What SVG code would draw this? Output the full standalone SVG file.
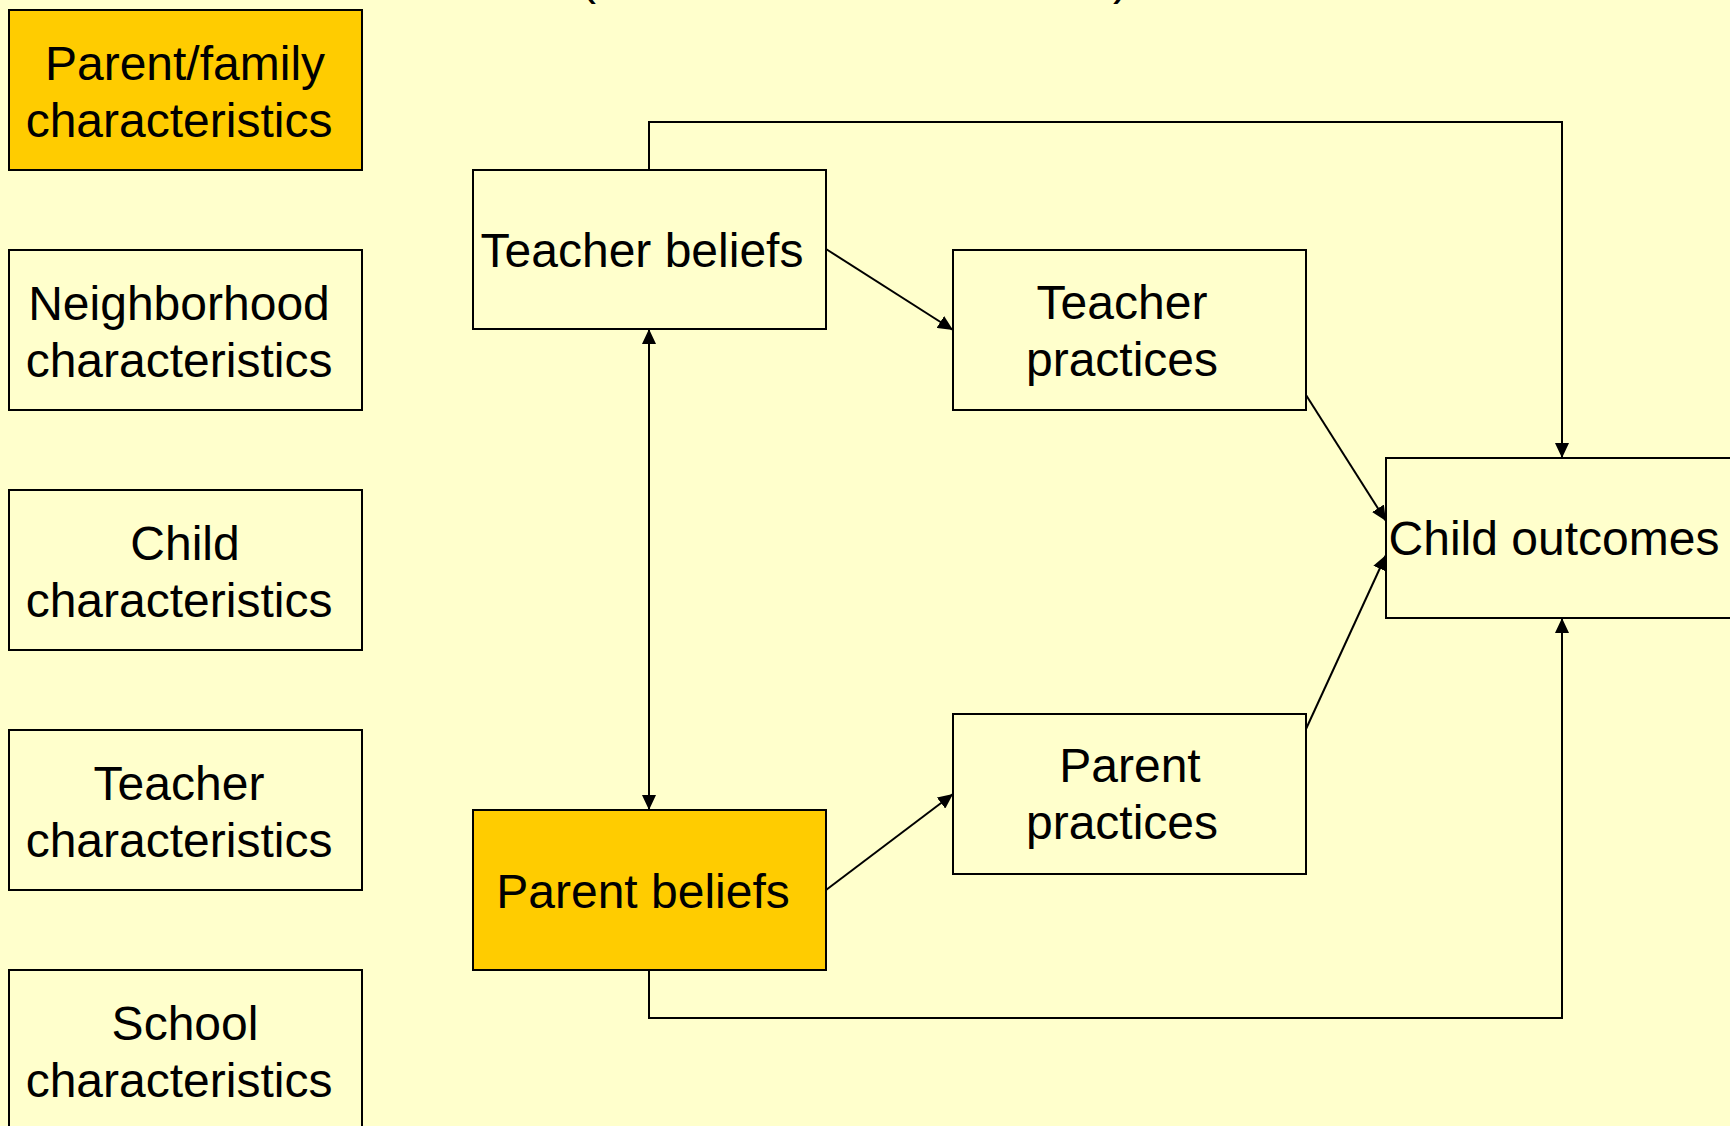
<svg xmlns="http://www.w3.org/2000/svg" width="1730" height="1126" viewBox="0 0 1730 1126">
<style>
.box{fill:#FFFFCC;stroke:#000;stroke-width:2}
.hl{fill:#FFCC00;stroke:#000;stroke-width:2}
text{font-family:"Liberation Sans",Arial,sans-serif;font-size:48px;fill:#000;text-anchor:middle}
.c{fill:none;stroke:#000;stroke-width:2}
</style>
<defs>
<marker id="ah" markerUnits="userSpaceOnUse" markerWidth="16" markerHeight="14" refX="15" refY="7" orient="auto-start-reverse">
<path d="M0,0 L15,7 L0,14 z" fill="#000"/>
</marker>
</defs>
<rect width="1730" height="1126" fill="#FFFFCC"/>
<g id="title-fragment">
<text x="580" y="-6" style="text-anchor:start">(</text>
<text x="975" y="-6" style="text-anchor:start">,</text>
<text x="1113" y="-6" style="text-anchor:start">)</text>
</g>
<g id="connectors">
<polyline class="c" points="649,170 649,122 1562,122 1562,458" marker-end="url(#ah)"/>
<polyline class="c" points="649,970 649,1018 1562,1018 1562,618" marker-end="url(#ah)"/>
<line class="c" x1="649" y1="329" x2="649" y2="810" marker-start="url(#ah)" marker-end="url(#ah)"/>
<line class="c" x1="826" y1="249" x2="953" y2="330" marker-end="url(#ah)"/>
<line class="c" x1="826" y1="890" x2="953" y2="794" marker-end="url(#ah)"/>
<line class="c" x1="1306" y1="395" x2="1386" y2="521" marker-end="url(#ah)"/>
<line class="c" x1="1306" y1="729" x2="1386" y2="555" marker-end="url(#ah)"/>
</g>
<g id="parent-family">
<rect class="hl" x="9" y="10" width="353" height="160"/>
<text x="185" y="80">Parent/family</text>
<text x="179" y="137">characteristics</text>
</g>
<g id="neighborhood">
<rect class="box" x="9" y="250" width="353" height="160"/>
<text x="179" y="320">Neighborhood</text>
<text x="179" y="377">characteristics</text>
</g>
<g id="child">
<rect class="box" x="9" y="490" width="353" height="160"/>
<text x="185" y="560">Child</text>
<text x="179" y="617">characteristics</text>
</g>
<g id="teacher">
<rect class="box" x="9" y="730" width="353" height="160"/>
<text x="179" y="800">Teacher</text>
<text x="179" y="857">characteristics</text>
</g>
<g id="school">
<rect class="box" x="9" y="970" width="353" height="160"/>
<text x="185" y="1040">School</text>
<text x="179" y="1097">characteristics</text>
</g>
<g id="teacher-beliefs">
<rect class="box" x="473" y="170" width="353" height="159"/>
<text x="642" y="267">Teacher beliefs</text>
</g>
<g id="parent-beliefs">
<rect class="hl" x="473" y="810" width="353" height="160"/>
<text x="643" y="908">Parent beliefs</text>
</g>
<g id="teacher-practices">
<rect class="box" x="953" y="250" width="353" height="160"/>
<text x="1122" y="319">Teacher</text>
<text x="1122" y="376">practices</text>
</g>
<g id="parent-practices">
<rect class="box" x="953" y="714" width="353" height="160"/>
<text x="1130" y="782">Parent</text>
<text x="1122" y="839">practices</text>
</g>
<g id="child-outcomes">
<rect class="box" x="1386" y="458" width="353" height="160"/>
<text x="1554" y="555">Child outcomes</text>
</g>
</svg>
